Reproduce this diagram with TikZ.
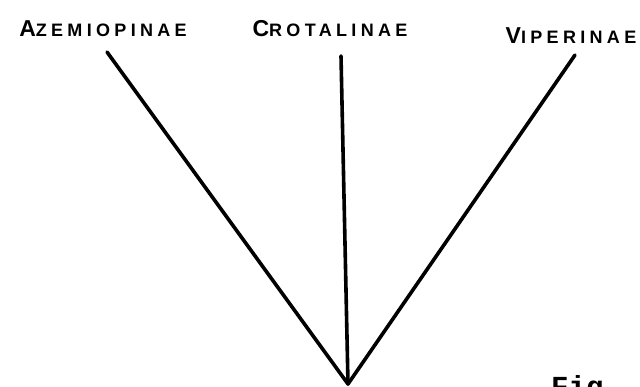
\documentclass[tikz,border=0pt]{standalone}
\usepackage{fontspec}
\newfontfamily\labfont[LetterSpace=24]{Liberation Sans}
\newfontfamily\figfont{Liberation Mono}
\newcommand{\lab}[2]{{\labfont\bfseries\fontsize{23}{23}\selectfont #1\fontsize{18}{18}\selectfont #2}}
\begin{document}
\begin{tikzpicture}[x=1pt,y=-1pt,
  branch/.style={line width=3.6pt,line cap=round},
  taxon/.style={anchor=base,inner sep=0pt,font=\labfont}]
\useasboundingbox (0,0) rectangle (640,386);
\clip (0,0) rectangle (640,386);
\coordinate (root) at (348,384);
\coordinate (tA) at (107,52);
\coordinate (tC) at (341,56);
\coordinate (tV) at (575,55);
\node[taxon] (azem) at (103,36) {\lab{A}{ZEMIOPINAE}};
\node[taxon] (crot) at (330,36) {\lab{C}{ROTALINAE}};
\node[taxon] (viper) at (571,43) {\lab{V}{IPERINAE}};
\draw[branch] (tA) -- (root);
\draw[branch] (tC) -- (root);
\draw[branch] (tV) -- (root);
\node[anchor=base west,inner sep=0pt,font=\figfont\bfseries\fontsize{29}{30}\selectfont] (fig) at (551,396) {Fig};
\end{tikzpicture}
\end{document}
